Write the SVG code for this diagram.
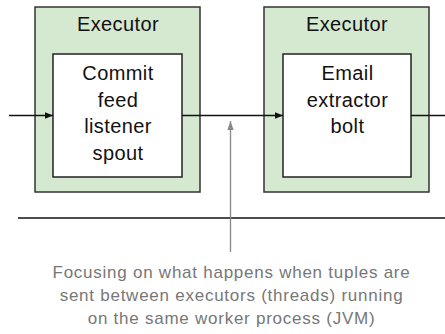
<svg xmlns="http://www.w3.org/2000/svg" width="445" height="334" viewBox="0 0 445 334">
<defs>
<style>
.outer{fill:#d5e8d0;stroke:#333;stroke-width:1.5}
.inner{fill:#fff;stroke:#222;stroke-width:1.5}
.t{font-family:"Liberation Sans",Arial,sans-serif;font-size:20px;letter-spacing:0.4px;fill:#111;text-anchor:middle}
.c{font-family:"Liberation Sans",Arial,sans-serif;font-size:17px;letter-spacing:0.75px;fill:#777;text-anchor:middle}
.ln{stroke:#111;stroke-width:1.3;fill:none}
</style>
<marker id="ah" viewBox="0 0 10 10" refX="10" refY="5" markerWidth="8" markerHeight="8" markerUnits="userSpaceOnUse" orient="auto"><path d="M0,1 L10,5 L0,9 z" fill="#111"/></marker>
<marker id="gh" viewBox="0 0 10 10" refX="10" refY="5" markerWidth="9" markerHeight="9" markerUnits="userSpaceOnUse" orient="auto"><path d="M0,1.5 L10,5 L0,8.5 z" fill="#888"/></marker>
</defs>
<g id="executor1">
<rect class="outer" x="35" y="7" width="165" height="185"/>
<text class="t" x="118" y="31">Executor</text>
<g id="spout">
<rect class="inner" x="53" y="54" width="129" height="123"/>
<text class="t" x="118" y="80">Commit</text>
<text class="t" x="118" y="106.5">feed</text>
<text class="t" x="118" y="133">listener</text>
<text class="t" x="118" y="159.5">spout</text>
</g>
</g>
<g id="executor2">
<rect class="outer" x="264" y="7" width="165" height="185"/>
<text class="t" x="347" y="31">Executor</text>
<g id="bolt">
<rect class="inner" x="283" y="54" width="128" height="123"/>
<text class="t" x="347.5" y="80">Email</text>
<text class="t" x="347.5" y="106.5">extractor</text>
<text class="t" x="347.5" y="133">bolt</text>
</g>
</g>
<g id="connectors">
<line class="ln" x1="9" y1="115.5" x2="53" y2="115.5" marker-end="url(#ah)"/>
<line class="ln" x1="182" y1="115.5" x2="283" y2="115.5" marker-end="url(#ah)"/>
<line class="ln" x1="411" y1="115.5" x2="445" y2="115.5"/>
<line class="ln" x1="18" y1="218" x2="445" y2="218"/>
<line x1="230.5" y1="252" x2="230.5" y2="121" stroke="#888" stroke-width="1.3" marker-end="url(#gh)"/>
</g>
<g id="caption">
<text class="c" x="231.5" y="277.5">Focusing on what happens when tuples are</text>
<text class="c" x="231.5" y="300.5">sent between executors (threads) running</text>
<text class="c" x="231.5" y="323.5">on the same worker process (JVM)</text>
</g>
</svg>
